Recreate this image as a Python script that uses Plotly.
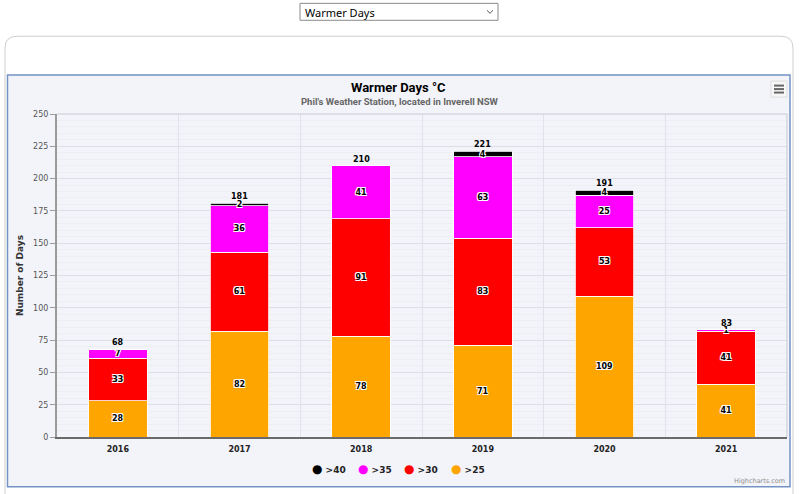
import plotly.graph_objects as go

years = ["2016", "2017", "2018", "2019", "2020", "2021"]
over25 = [28, 82, 78, 71, 109, 41]
over30 = [33, 61, 91, 83, 53, 41]
over35 = [7, 36, 41, 63, 25, 1]
over40 = [0, 2, 0, 4, 4, 0]
series_names = [">25", ">30", ">35", ">40"]
series_colors = ["#FFA500", "#FF0000", "#FF00FF", "#000000"]
y_ticks = [0, 25, 50, 75, 100, 125, 150, 175, 200, 225, 250]

W, H = 800, 494
L, R, T, B = 57, 13, 114, 56
PW, PH = W - L - R, H - T - B


def px(x):
    return (x - L) / PW


def py(y):
    return (H - B - y) / PH


AXF = "DejaVu Sans"
SHADOW = "-1px -1px 0 #fff, 1px -1px 0 #fff, -1px 1px 0 #fff, 1px 1px 0 #fff"

fig = go.Figure()
series = [over25, over30, over35, over40]
for name, vals, col in zip(series_names, series, series_colors):
    fig.add_trace(go.Bar(
        x=years, y=vals, name=name,
        marker=dict(color=col, line=dict(color="#ffffff", width=0.8)),
        text=[str(v) if v else "" for v in vals],
        textposition="inside", insidetextanchor="middle",
        textangle=0, constraintext="none",
        textfont=dict(family=AXF, size=8, color="#000000", weight="bold", shadow=SHADOW),
        showlegend=False, hoverinfo="x+y+name",
    ))

# legend entries (top series first), each in its own legend box; the round
# marker is drawn as a coloured bullet glyph in the entry text
legend_x_px = [272, 318, 364, 411]
legend_ids = ["legend", "legend2", "legend3", "legend4"]
for lid, (name, col) in zip(legend_ids, reversed(list(zip(series_names, series_colors)))):
    fig.add_trace(go.Scatter(
        x=[years[0]], y=[None], mode="markers",
        name=f"<span style='color:{col};font-size:12px'>●</span> {name}",
        marker=dict(color="rgba(0,0,0,0)", size=2, symbol="circle",
                    line=dict(width=0, color="rgba(0,0,0,0)")),
        legend=lid, showlegend=True, hoverinfo="skip",
    ))

# stack totals above each column
totals = [a + b + c + d for a, b, c, d in zip(over25, over30, over35, over40)]
annotations = []
for i, tot in enumerate(totals):
    annotations.append(dict(
        x=i, y=tot, xref="x", yref="y", text=str(tot), showarrow=False,
        yanchor="bottom", yshift=0,
        font=dict(family=AXF, size=8, color="#000000", weight="bold"),
    ))

annotations += [
    dict(x=px(398), y=py(87), xref="paper", yref="paper", text="<b>Warmer Days °C</b>",
         showarrow=False, xanchor="center", yanchor="middle",
         font=dict(family="Roboto", size=13, color="#000000")),
    dict(x=px(400), y=py(101), xref="paper", yref="paper",
         text="<b>Phil's Weather Station, located in Inverell NSW</b>",
         showarrow=False, xanchor="center", yanchor="middle",
         font=dict(family="Roboto", size=9.5, color="#666666")),
    dict(x=px(787), y=py(482), xref="paper", yref="paper", text="Highcharts.com",
         showarrow=False, xanchor="right", yanchor="middle",
         font=dict(family=AXF, size=6.5, color="#909090")),
    dict(x=px(303), y=py(12), xref="paper", yref="paper", text="Warmer Days",
         showarrow=False, xanchor="left", yanchor="middle",
         font=dict(family="Noto Sans", size=11, color="#000000")),
]

shapes = [
    # outer rounded container
    dict(type="path", xref="paper", yref="paper", layer="below",
         path=(f"M {px(5)},{py(500)} L {px(5)},{py(48)} Q {px(5)},{py(36)} {px(17)},{py(36)} "
               f"L {px(781)},{py(36)} Q {px(793)},{py(36)} {px(793)},{py(48)} L {px(793)},{py(500)}"),
         line=dict(color="#cfcfcf", width=1)),
    # chart frame
    dict(type="rect", xref="paper", yref="paper", layer="below",
         x0=px(7.5), x1=px(790), y0=py(75), y1=py(488),
         fillcolor="#f3f4fa", line=dict(color="#7393c3", width=1.5)),
    # dropdown box
    dict(type="rect", xref="paper", yref="paper", layer="below",
         x0=px(300), x1=px(498), y0=py(3), y1=py(20),
         fillcolor="#ffffff", line=dict(color="#8a8a8a", width=1)),
    dict(type="path", xref="paper", yref="paper", layer="above",
         path=f"M {px(487)},{py(10)} L {px(490)},{py(13)} L {px(493)},{py(10)}",
         line=dict(color="#555555", width=1)),
    # plot-area top/right border
    dict(type="path", xref="paper", yref="paper", layer="above",
         path="M 0,1 L 1,1 L 1,0",
         line=dict(color="#c9c9d2", width=1)),
    # hamburger button
    dict(type="rect", xref="paper", yref="paper", layer="above",
         x0=px(771), x1=px(787), y0=py(81), y1=py(97),
         fillcolor="#f7f7f7", line=dict(color="#dddddd", width=1)),
]
for yy in (85.5, 89, 92.5):
    shapes.append(dict(type="line", xref="paper", yref="paper", layer="above",
                       x0=px(774), x1=px(784), y0=py(yy), y1=py(yy),
                       line=dict(color="#666666", width=2)))

legend_style = dict(orientation="h", xanchor="left", y=py(469), yanchor="middle",
                    bgcolor="rgba(0,0,0,0)", itemwidth=30,
                    font=dict(family=AXF, size=9, color="#222222", weight="bold"))
legend_layout = {}
for lid, lx in zip(legend_ids, legend_x_px):
    legend_layout[lid] = dict(legend_style, x=px(lx))

fig.update_layout(
    width=W, height=H,
    margin=dict(l=L, r=R, t=T, b=B, pad=0),
    paper_bgcolor="#ffffff",
    plot_bgcolor="#f9f9fd",
    barmode="stack", bargap=0.52,
    showlegend=True,
    xaxis=dict(
        type="category", categoryarray=years, categoryorder="array",
        range=[-0.5, len(years) - 0.5],
        tickson="boundaries", showgrid=True, gridcolor="#e2e2ea", gridwidth=1,
        showline=True, linecolor="#6a6a6a", linewidth=2, ticks="", tickangle=0,
        ticklabelstandoff=3,
        tickfont=dict(family=AXF, size=8, color="#222222", weight="bold"),
        zeroline=False, fixedrange=True,
    ),
    yaxis=dict(
        range=[0, 250], tickvals=y_ticks, showgrid=True, gridcolor="#dedee6", gridwidth=1,
        minor=dict(dtick=5, showgrid=True, gridcolor="#ededf3", gridwidth=1),
        showline=True, linecolor="#9a9a9a", linewidth=2,
        ticks="outside", ticklen=5, tickcolor="#9a9a9a", tickwidth=1,
        tickfont=dict(family=AXF, size=8, color="#555555"),
        title=dict(text="Number of Days", standoff=8,
                   font=dict(family=AXF, size=9, color="#333333", weight="bold")),
        zeroline=False, fixedrange=True,
    ),
    shapes=shapes,
    annotations=annotations,
    hovermode="closest",
    **legend_layout,
)

fig.write_html(
    "out.html",
    config={"displayModeBar": False},
    post_script="document.body.style.margin='0';document.body.style.overflow='hidden';",
)
